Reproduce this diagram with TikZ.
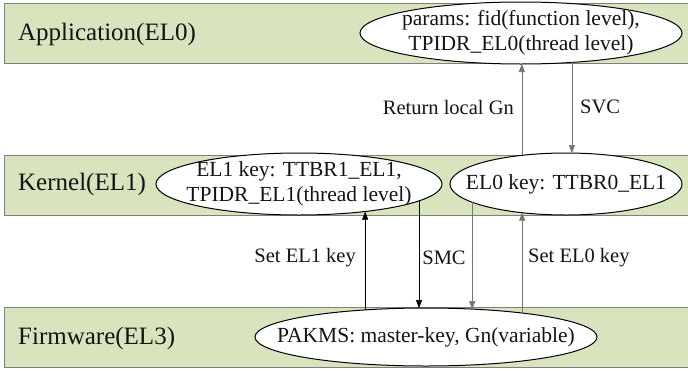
\documentclass[tikz,border=0pt]{standalone}
\usepackage{fontspec}
\setmainfont{Liberation Serif}
\usetikzlibrary{arrows.meta,shapes.geometric,calc}
\definecolor{bandgreen}{HTML}{D7E4BD}
\definecolor{bandedge}{HTML}{7F7F7F}
\definecolor{txt}{HTML}{141414}
\begin{document}
\begin{tikzpicture}[x=1pt,y=-1pt,
  band/.style={draw=bandedge, line width=1pt, fill=bandgreen, rectangle,
    minimum width=690pt, minimum height=60pt, anchor=north west, inner sep=0pt},
  bandlabel/.style={anchor=west, text=txt, font=\fontsize{25}{29}\selectfont, inner sep=0pt},
  oval/.style={ellipse, draw=black, line width=1pt, fill=white, inner sep=0pt, outer sep=0pt},
  ovaltext/.style={align=center, text=txt, font=\fontsize{21.5}{25}\selectfont, inner sep=0pt},
  lbl/.style={text=txt, font=\fontsize{20.5}{24}\selectfont, inner sep=0pt},
  conn/.style={line width=0.6pt, -{Triangle[length=8pt,width=6pt]}},
  dark/.style={draw=black},
  light/.style={draw=black!55}]
\useasboundingbox (0,0) rectangle (688,370);
% bands
\node[band] (b1) at (4,3) {};
\node[band] (b2) at (4,155) {};
\node[band] (b3) at (4,307) {};
\node[bandlabel] (t1) at (18,34) {Application(EL0)};
\node[bandlabel] (t2) at (18,184) {Kernel(EL1)};
\node[bandlabel] (t3) at (18,338) {Firmware(EL3)};
% ellipses
\node[oval, minimum width=322pt, minimum height=62pt] (par) at (521,33) {};
\node[ovaltext] (part) at (par.center) {params: fid(function level),\\TPIDR\_EL0(thread level)};
\node[oval, minimum width=286pt, minimum height=62pt] (el1) at (299,184) {};
\node[ovaltext] (el1t) at (el1.center) {EL1 key: TTBR1\_EL1,\\TPIDR\_EL1(thread level)};
\node[oval, minimum width=232pt, minimum height=62pt] (el0) at (566,184) {};
\node[ovaltext] (el0t) at (el0.center) {EL0 key: TTBR0\_EL1};
\node[oval, minimum width=342pt, minimum height=58pt] (pk) at (426,337) {};
\node[ovaltext] (pkt) at (pk.center) {PAKMS: master-key, Gn(variable)};
% connectors
\draw[conn, light] (el0.147.6) -- (el0.147.6 |- par.south);
\draw[conn, light] (par.-30.5) -- (par.-30.5 |- el0.80.83);
\draw[conn, dark] (pk.156.44) -- (pk.156.44 |- el1.-23.0);
\draw[conn, dark] (el1.-8.44) -- (el1.-8.44 |- pk.107.26);
\draw[conn, light] (el0.-169.4) -- (el0.-169.4 |- pk.31.87);
\draw[conn, light] (pk.14.24) -- (pk.14.24 |- el0.-147.6);
% labels
\node[lbl, anchor=east] (lret) at (514,107) {Return local Gn};
\node[lbl, anchor=west] (lsvc) at (580,107) {SVC};
\node[lbl, anchor=east] (lset1) at (356,258) {Set EL1 key};
\node[lbl] (lsmc) at (444,258) {SMC};
\node[lbl, anchor=west] (lset0) at (528,258) {Set EL0 key};
\end{tikzpicture}
\end{document}
